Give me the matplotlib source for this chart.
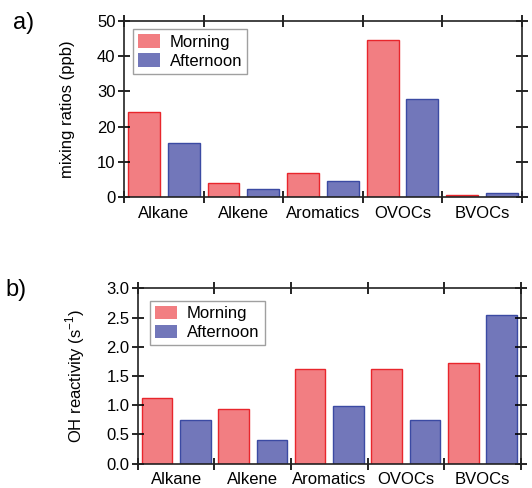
import numpy as np
import matplotlib.pyplot as plt

plt.rcParams['font.family'] = ['Liberation Sans', 'DejaVu Sans']

categories = ['Alkane', 'Alkene', 'Aromatics', 'OVOCs', 'BVOCs']
mix_morning = [24.1, 4.05, 6.9, 44.5, 0.6]
mix_afternoon = [15.5, 2.3, 4.6, 27.8, 1.1]
oh_morning = [1.12, 0.94, 1.62, 1.62, 1.73]
oh_afternoon = [0.74, 0.405, 0.99, 0.74, 2.55]

morning_fill, morning_edge = '#f27e82', '#e8262c'
after_fill, after_edge = '#7277ba', '#3b4aa3'


def draw_panel(ax, morning, afternoon, ylim, yticks, ytickfmt, leg_anchor):
    x = np.arange(len(categories))
    ax.bar(x + 0.25, morning, width=0.4, color=morning_fill, edgecolor=morning_edge,
           linewidth=1.0, label='Morning')
    ax.bar(x + 0.75, afternoon, width=0.4, color=after_fill, edgecolor=after_edge,
           linewidth=1.0, label='Afternoon')
    ax.set_xlim(0, len(categories))
    ax.set_ylim(*ylim)
    ax.set_yticks(yticks)
    ax.set_yticklabels([ytickfmt.format(v) for v in yticks])
    ax.set_xticks(np.arange(len(categories) + 1))
    ax.set_xticklabels([])
    ax.set_xticks(x + 0.5, minor=True)
    ax.set_xticklabels(categories, minor=True)
    ax.tick_params(axis='x', which='minor', length=0, pad=6, labelsize=12)
    ax.tick_params(axis='x', which='major', direction='inout', length=9, width=1.2,
                   top=True, bottom=True)
    ax.tick_params(axis='y', which='major', direction='inout', length=8, width=1.2,
                   left=True, right=True, labelsize=12, pad=2)
    for s in ax.spines.values():
        s.set_linewidth(1.2)
        s.set_color('#222222')
    leg = ax.legend(loc='upper left', bbox_to_anchor=leg_anchor, fontsize=12,
                    frameon=True, fancybox=False, edgecolor='#888888',
                    handlelength=1.3, handleheight=0.85, handletextpad=0.6,
                    borderpad=0.3, labelspacing=0.2, borderaxespad=0)
    for h in leg.legend_handles:
        h.set_edgecolor('none')
    leg.get_frame().set_linewidth(1.0)


fig = plt.figure(figsize=(5.32, 4.88), dpi=100)

ax1 = fig.add_axes([0.233, 0.5957, 0.748, 0.362])
draw_panel(ax1, mix_morning, mix_afternoon, (0, 50), [0, 10, 20, 30, 40, 50], '{:d}',
           (0.023, 0.95))
ax1.set_ylabel('mixing ratios (ppb)', fontsize=12, labelpad=16)
fig.text(0.024, 0.953, 'a)', fontsize=17, va='center')

ax2 = fig.add_axes([0.259, 0.0498, 0.720, 0.3594])
draw_panel(ax2, oh_morning, oh_afternoon, (0, 3.0),
           [0, 0.5, 1.0, 1.5, 2.0, 2.5, 3.0], '{:.1f}', (0.033, 0.928))
ax2.set_ylabel('OH reactivity (s$^{\\mathregular{-1}}$)', fontsize=12, labelpad=14)
fig.text(0.011, 0.406, 'b)', fontsize=17, va='center')

fig.savefig('out.png', dpi=100)
